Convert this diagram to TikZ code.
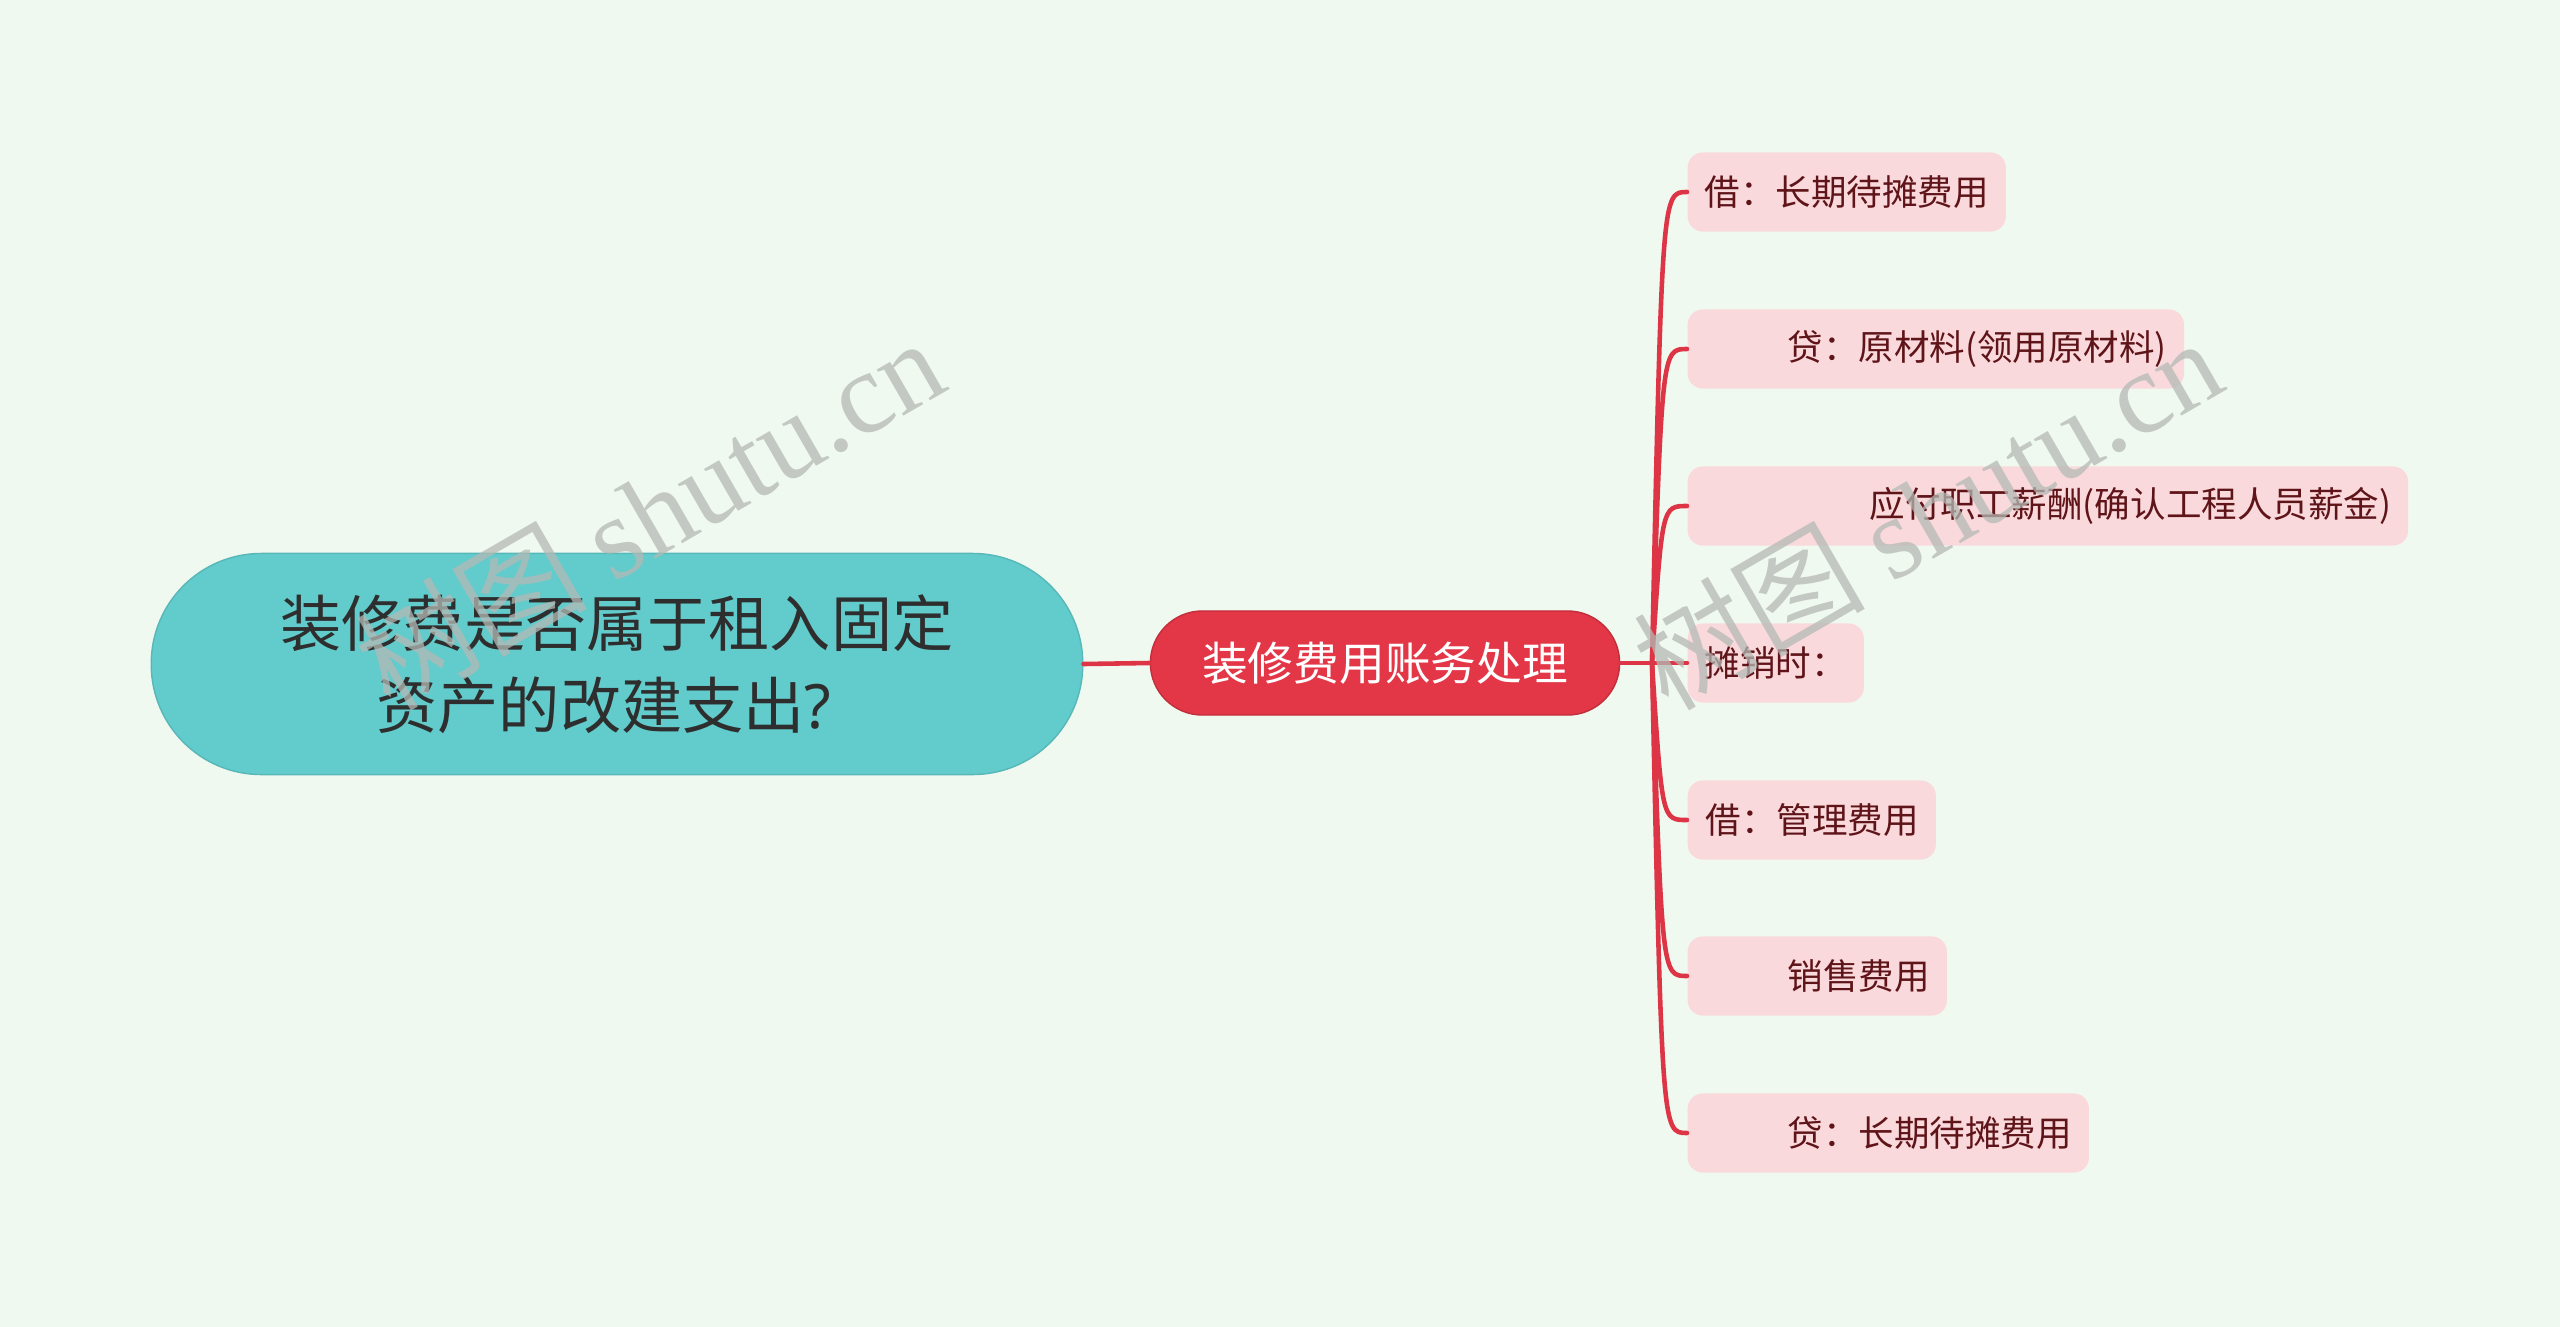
\documentclass[tikz,border=0pt]{standalone}
\usepackage{fontspec}
\setmainfont{Noto Sans CJK SC}
\newfontfamily\wmfont{Liberation Serif}
\newfontfamily\qmfont{Noto Sans}
\usetikzlibrary{positioning}

\definecolor{bgcol}{HTML}{F0F9EF}
\definecolor{rootcol}{HTML}{62CBCC}
\definecolor{topiccol}{HTML}{E33646}
\definecolor{leafcol}{HTML}{FAD9DC}
\definecolor{leaftext}{HTML}{5E1418}
\definecolor{linecol}{HTML}{DD3545}
\definecolor{wmcol}{HTML}{B4B9B4}

\begin{document}
\begin{tikzpicture}[
    x=0.01cm, y=-0.01cm,
    line cap=round,
    line join=round,
    root/.style={fill=rootcol, draw=rootcol!90!black, line width=0.4pt,
        rounded corners=1.1cm, minimum width=9.31cm, minimum height=2.21cm,
        align=center, text=black!82, font=\fontsize{17.4pt}{23.3pt}\selectfont},
    topic/.style={fill=topiccol, draw=topiccol!85!black, line width=0.4pt,
        rounded corners=0.52cm, minimum width=4.69cm, minimum height=1.04cm,
        text=white, font=\fontsize{13pt}{15pt}\selectfont},
    leaf/.style={fill=leafcol, rounded corners=0.15cm, minimum height=0.79cm,
        inner xsep=0.17cm, anchor=west, align=right, text=leaftext,
        font=\fontsize{10.1pt}{12pt}\selectfont},
    link/.style={draw=linecol, line width=1.3pt},
    watermark/.style={text=wmcol, opacity=0.75, rotate=30,
        font=\fontsize{33pt}{38pt}\selectfont}
]

% -------------------------------------------------
% Фон и рамка
% -------------------------------------------------

\useasboundingbox (0,0) rectangle (2560,1327);
\fill[bgcol] (0,0) rectangle (2560,1327);

% -------------------------------------------------
% Главная тема и подтема
% -------------------------------------------------

\node[root]  (root)  at (617,664)  {装修费是否属于租入固定\\资产的改建支出{\qmfont ?}\hspace*{0.26cm}};
\node[topic] (topic) at (1385,663) {装修费用账务处理};

\coordinate (hub) at (1652,663);

% -------------------------------------------------
% Листья
% -------------------------------------------------

\node[leaf, text width=2.84cm] (l1) at (1687,192)  {借：长期待摊费用};
\node[leaf, text width=4.62cm] (l2) at (1687,349)  {贷：原材料(领用原材料)};
\node[leaf, text width=6.86cm] (l3) at (1687,506)  {应付职工薪酬(确认工程人员薪金)};
\node[leaf, text width=1.42cm] (l4) at (1687,663)  {摊销时：};
\node[leaf, text width=2.14cm] (l5) at (1687,820)  {借：管理费用};
\node[leaf, text width=2.25cm] (l6) at (1687,976)  {销售费用};
\node[leaf, text width=3.67cm] (l7) at (1687,1133) {贷：长期待摊费用};

% -------------------------------------------------
% Связи
% -------------------------------------------------

\draw[link] (root.east) -- (topic.west);
\draw[link] (topic.east) -- (hub);

\draw[link] (hub) .. controls (1662,192)  .. (l1.west);
\draw[link] (hub) .. controls (1662,349)  .. (l2.west);
\draw[link] (hub) .. controls (1662,506)  .. (l3.west);
\draw[link] (hub) -- (l4.west);
\draw[link] (hub) .. controls (1662,820)  .. (l5.west);
\draw[link] (hub) .. controls (1662,976)  .. (l6.west);
\draw[link] (hub) .. controls (1662,1133) .. (l7.west);

% -------------------------------------------------
% Водяные знаки
% -------------------------------------------------

\node[watermark] (wm1) at (649,512)  {树图 {\wmfont shutu.cn}};
\node[watermark] (wm2) at (1927,512) {树图 {\wmfont shutu.cn}};

\end{tikzpicture}
\end{document}
